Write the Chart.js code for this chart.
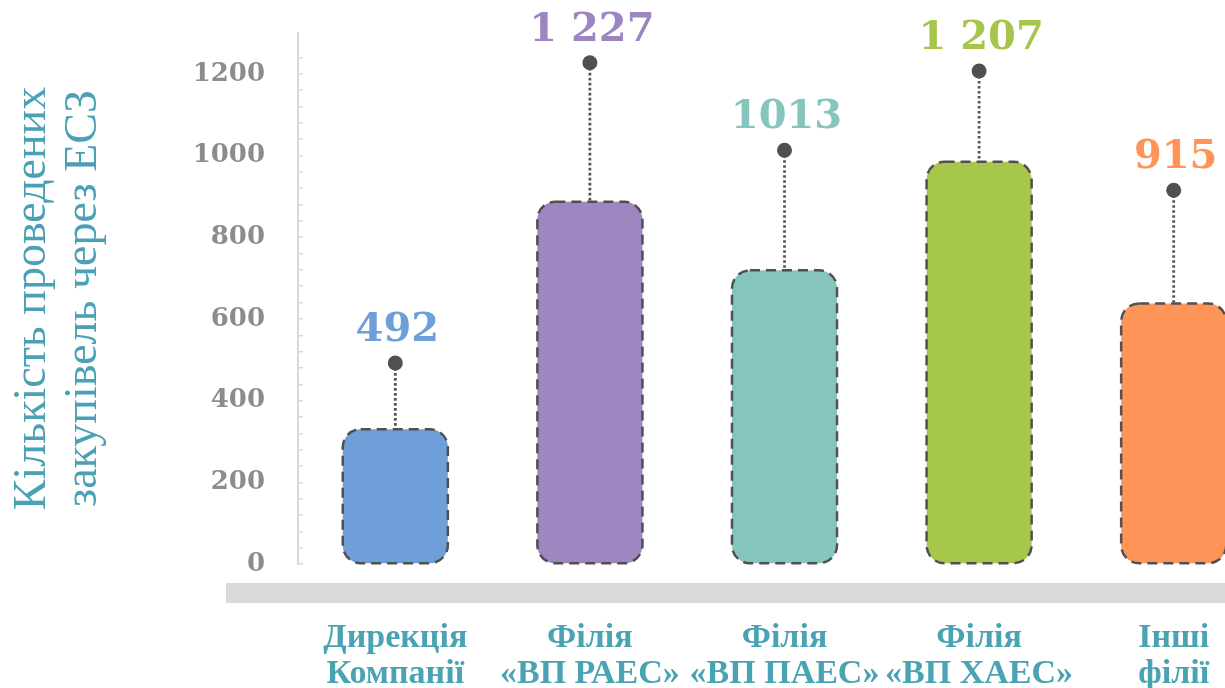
<!DOCTYPE html>
<html>
<head>
<meta charset="utf-8">
<script src="https://cdn.jsdelivr.net/npm/chart.js@4"></script>
<style>
  html, body { margin: 0; padding: 0; overflow: hidden; background: #ffffff; }
  #wrap { width: 1225px; height: 688px; overflow: hidden; }
  canvas { display: block; }
</style>
</head>
<body>
<div id="wrap"><canvas id="c" width="1271" height="688"></canvas></div>
<script>
// ---- data ----
const categories = [
  ["Дирекція", "Компанії"],
  ["Філія", "«ВП РАЕС»"],
  ["Філія", "«ВП ПАЕС»"],
  ["Філія", "«ВП ХАЕС»"],
  ["Інші", "філії"]
];
const values = [492, 1227, 1013, 1207, 915];          // dots + labels
const valueLabels = ["492", "1 227", "1013", "1 207", "915"];
const barValues = [330, 887, 719, 985, 638];          // decorative bar heights
const barColors = ["#6f9fd8", "#9e86c1", "#86c5bd", "#a6c74b", "#ff9458"];
const labelColors = ["#6e9fd9", "#9d86c0", "#86c5bd", "#a5c64a", "#ff9459"];
const yTitle = ["Кількість проведених", "закупівель через ЕСЗ"];
const yMax = 1300;
const yStep = 40;
const yLabelStep = 200;

const decor = {
  id: 'decor',
  beforeDraw(chart) {
    const { ctx, chartArea } = chart;
    ctx.save();
    ctx.fillStyle = '#d9d9d9';
    ctx.fillRect(chartArea.left - 72, chartArea.bottom + 19, chart.width, 20);
    ctx.restore();
  },
  beforeDatasetsDraw(chart) {
    const { ctx } = chart;
    const bars = chart.getDatasetMeta(0).data;
    const dots = chart.getDatasetMeta(1).data;
    ctx.save();
    ctx.strokeStyle = '#555555';
    ctx.lineWidth = 2.8;
    ctx.setLineDash([2.6, 2.4]);
    dots.forEach((p, i) => {
      const b = bars[i].getProps(['y'], true);
      ctx.beginPath();
      ctx.moveTo(p.x, p.y);
      ctx.lineTo(p.x, b.y);
      ctx.stroke();
    });
    ctx.restore();
  },
  afterDatasetsDraw(chart) {
    const { ctx } = chart;
    const bars = chart.getDatasetMeta(0).data;
    const dots = chart.getDatasetMeta(1).data;
    ctx.save();
    ctx.strokeStyle = '#505050';
    ctx.lineWidth = 2.5;
    ctx.setLineDash([10, 6]);
    bars.forEach((el) => {
      const { x, y, base, width } = el.getProps(['x', 'y', 'base', 'width'], true);
      ctx.beginPath();
      ctx.roundRect(x - width / 2, y, width, base - y, 18);
      ctx.stroke();
    });
    ctx.setLineDash([]);
    ctx.font = 'bold 40px "DejaVu Serif"';
    ctx.textAlign = 'center';
    ctx.textBaseline = 'alphabetic';
    dots.forEach((p, i) => {
      ctx.fillStyle = labelColors[i];
      ctx.fillText(valueLabels[i], p.x + 2, p.y - 22);
    });
    ctx.restore();
  }
};

new Chart(document.getElementById('c'), {
  type: 'bar',
  data: {
    labels: categories,
    datasets: [
      {
        data: barValues,
        backgroundColor: barColors,
        borderWidth: 0,
        borderRadius: 18,
        borderSkipped: false,
        barPercentage: 0.54,
        categoryPercentage: 1
      },
      {
        type: 'line',
        data: values,
        showLine: false,
        pointRadius: 7.5,
        pointHoverRadius: 7.5,
        pointBackgroundColor: '#505050',
        pointBorderWidth: 0,
        borderColor: '#505050'
      }
    ]
  },
  options: {
    responsive: false,
    animation: false,
    devicePixelRatio: 1,
    layout: { autoPadding: false, padding: { top: 33, bottom: 0, left: 0, right: 0 } },
    plugins: { legend: { display: false }, tooltip: { enabled: false } },
    scales: {
      x: {
        offset: true,
        afterFit(scale) {
          scale.height = 124;
          scale.paddingLeft = 0; scale.paddingRight = 0;
          scale.paddingTop = 0; scale.paddingBottom = 0;
        },
        grid: { display: false, drawTicks: false },
        border: { display: false },
        ticks: {
          padding: 56,
          color: '#4aa3b3',
          font: { family: '"Liberation Serif"', size: 34, weight: 'bold', lineHeight: 1.06 },
          maxRotation: 0,
          autoSkip: false
        }
      },
      y: {
        min: 0,
        max: yMax,
        afterFit(scale) {
          scale.width = 298;
          scale.paddingTop = 0; scale.paddingBottom = 0;
          scale.paddingLeft = 0; scale.paddingRight = 0;
        },
        border: { display: true, color: '#d9d9d9', width: 2 },
        grid: {
          drawOnChartArea: false,
          drawTicks: true,
          tickLength: -5,
          color: (c) => (c.tick && c.tick.value > 1280 ? 'rgba(0,0,0,0)' : '#d9d9d9'),
          lineWidth: 1.5
        },
        ticks: {
          stepSize: yStep,
          autoSkip: false,
          padding: 38,
          color: '#8c8c8c',
          font: { family: '"DejaVu Serif"', size: 26, weight: 'bold' },
          callback: (v) => (v % yLabelStep === 0 && v <= 1200 ? String(v) : '')
        },
        title: {
          display: true,
          text: yTitle,
          color: '#4aa0b4',
          font: { family: '"Liberation Serif"', size: 46, weight: 'normal', lineHeight: 1.1 },
          padding: { top: 8, bottom: 0 }
        }
      }
    }
  },
  plugins: [decor]
});
</script>
</body>
</html>
